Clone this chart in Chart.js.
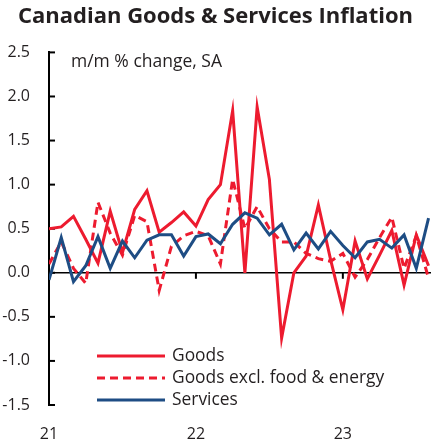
<!DOCTYPE html>
<html>
<head>
<meta charset="utf-8">
<script src="https://cdn.jsdelivr.net/npm/chart.js@4.4.1/dist/chart.umd.min.js"></script>
<style>
  html, body { margin: 0; padding: 0; background: #fff; }
  #wrap { width: 431px; height: 443px; position: relative; }
</style>
</head>
<body>
<div id="wrap"><canvas id="inflationChart"></canvas></div>
<script>
// Monthly data, Jan 2021 - Aug 2023 (m/m % change, SA)
const months = [
  '2021-01', '2021-02', '2021-03', '2021-04', '2021-05', '2021-06', '2021-07', '2021-08',
  '2021-09', '2021-10', '2021-11', '2021-12', '2022-01', '2022-02', '2022-03', '2022-04',
  '2022-05', '2022-06', '2022-07', '2022-08', '2022-09', '2022-10', '2022-11', '2022-12',
  '2023-01', '2023-02', '2023-03', '2023-04', '2023-05', '2023-06', '2023-07', '2023-08'
];
const goods = [
  0.50, 0.52, 0.64, 0.38, 0.11, 0.70, 0.23, 0.72, 0.93, 0.46, 0.57, 0.69, 0.53, 0.83, 1.00, 1.84,
  0.00, 1.88, 1.06, -0.74, 0.00, 0.19, 0.77, 0.15, -0.42, 0.36, -0.07, 0.20, 0.48, -0.14, 0.43, 0.08
];
const goodsCore = [
  0.10, 0.35, 0.05, -0.12, 0.80, 0.45, 0.20, 0.65, 0.58, -0.20, 0.30, 0.42, 0.47, 0.42, 0.10, 1.06,
  0.50, 0.75, 0.50, 0.35, 0.35, 0.22, 0.16, 0.13, 0.22, -0.05, 0.15, 0.40, 0.63, 0.05, 0.42, -0.06
];
const services = [
  -0.08, 0.40, -0.10, 0.08, 0.41, 0.05, 0.36, 0.17, 0.37, 0.43, 0.43, 0.19, 0.41, 0.44, 0.33, 0.55,
  0.68, 0.62, 0.43, 0.55, 0.26, 0.45, 0.27, 0.47, 0.31, 0.17, 0.35, 0.38, 0.28, 0.43, 0.05, 0.62
];
const yearTicks = [0, 12, 24];
const yearLabels = ['21', '22', '23'];
const seriesNames = ['Goods', 'Goods excl. food & energy', 'Services'];

const RED = '#ED1B2F';
const BLUE = '#1E4D84';
const TEXT = '#231F20';
const FONT = "'Open Sans', 'Noto Sans', sans-serif";

// turn a value array into {x: monthIndex, y: value} points
function toPoints(values) {
  return values.map((v, i) => ({ x: i, y: v }));
}

// zero line, inward y ticks and year ticks on the zero line
const axisMarks = {
  id: 'axisMarks',
  beforeDatasetsDraw(chart) {
    const { ctx, chartArea, scales } = chart;
    const x = scales.x, y = scales.y;
    const y0 = y.getPixelForValue(0);
    ctx.save();
    ctx.strokeStyle = '#000';
    ctx.lineWidth = 1.5;
    ctx.beginPath();
    ctx.moveTo(chartArea.left, y0);
    ctx.lineTo(chartArea.right, y0);
    ctx.stroke();
    ctx.lineWidth = 2;
    y.ticks.forEach(t => {
      const py = y.getPixelForValue(t.value);
      ctx.beginPath();
      ctx.moveTo(chartArea.left, py);
      ctx.lineTo(chartArea.left + 6, py);
      ctx.stroke();
    });
    yearTicks.forEach(v => {
      const px = x.getPixelForValue(v);
      ctx.beginPath();
      ctx.moveTo(px, y0);
      ctx.lineTo(px, y0 + 6);
      ctx.stroke();
    });
    ctx.restore();
  },
  afterDraw(chart) {
    const { ctx } = chart;
    ctx.save();
    // units note
    ctx.fillStyle = TEXT;
    ctx.font = '17.5px ' + FONT;
    ctx.textBaseline = 'middle';
    ctx.textAlign = 'left';
    ctx.fillText('m/m % change, SA', 71, 62);

    // legend in the lower left of the plot
    const rows = [356, 378, 400];
    chart.data.datasets.forEach((ds, i) => {
      const ly = rows[i];
      ctx.strokeStyle = ds.borderColor;
      ctx.lineWidth = 3;
      ctx.setLineDash(ds.borderDash || []);
      ctx.beginPath();
      ctx.moveTo(97, ly);
      ctx.lineTo(165, ly);
      ctx.stroke();
      ctx.setLineDash([]);
      ctx.fillStyle = TEXT;
      ctx.font = '17.4px ' + FONT;
      ctx.fillText(seriesNames[i], 172, ly);
    });
    ctx.restore();
  }
};

const ctx = document.getElementById('inflationChart').getContext('2d');
new Chart(ctx, {
  type: 'line',
  data: {
    datasets: [
      {
        label: seriesNames[0],
        data: toPoints(goods),
        borderColor: RED,
        borderWidth: 3,
        order: 3
      },
      {
        label: seriesNames[1],
        data: toPoints(goodsCore),
        borderColor: RED,
        borderWidth: 3,
        borderDash: [8, 5],
        order: 2
      },
      {
        label: seriesNames[2],
        data: toPoints(services),
        borderColor: BLUE,
        borderWidth: 3,
        order: 1
      }
    ]
  },
  options: {
    responsive: true,
    maintainAspectRatio: false,
    animation: false,
    elements: {
      point: { radius: 0 },
      line: { tension: 0, borderJoinStyle: 'miter', borderCapStyle: 'butt' }
    },
    layout: { padding: { left: 0, right: 0, top: 0, bottom: 0 } },
    plugins: {
      legend: { display: false },
      tooltip: { enabled: false },
      title: {
        display: true,
        text: 'Canadian Goods & Services Inflation',
        color: TEXT,
        font: { family: FONT, size: 22, weight: 'bold' },
        padding: { top: 4, bottom: 22 }
      }
    },
    scales: {
      x: {
        type: 'linear',
        min: 0,
        max: 31.2,
        afterBuildTicks: scale => {
          scale.ticks = yearTicks.map(v => ({ value: v }));
        },
        afterFit: scale => { scale.height = 38; },
        grid: { display: false },
        border: { display: false },
        ticks: {
          padding: 12,
          color: TEXT,
          font: { family: FONT, size: 16 },
          maxRotation: 0,
          callback: (v) => yearLabels[yearTicks.indexOf(v)]
        }
      },
      y: {
        min: -1.5,
        max: 2.5,
        afterFit: scale => { scale.width = 49; },
        grid: { display: false, drawTicks: false },
        border: { display: true, color: '#000', width: 2 },
        ticks: {
          stepSize: 0.5,
          padding: 19,
          color: TEXT,
          font: { family: FONT, size: 16 },
          callback: v => v.toFixed(1)
        }
      }
    }
  },
  plugins: [axisMarks]
});
</script>
</body>
</html>
